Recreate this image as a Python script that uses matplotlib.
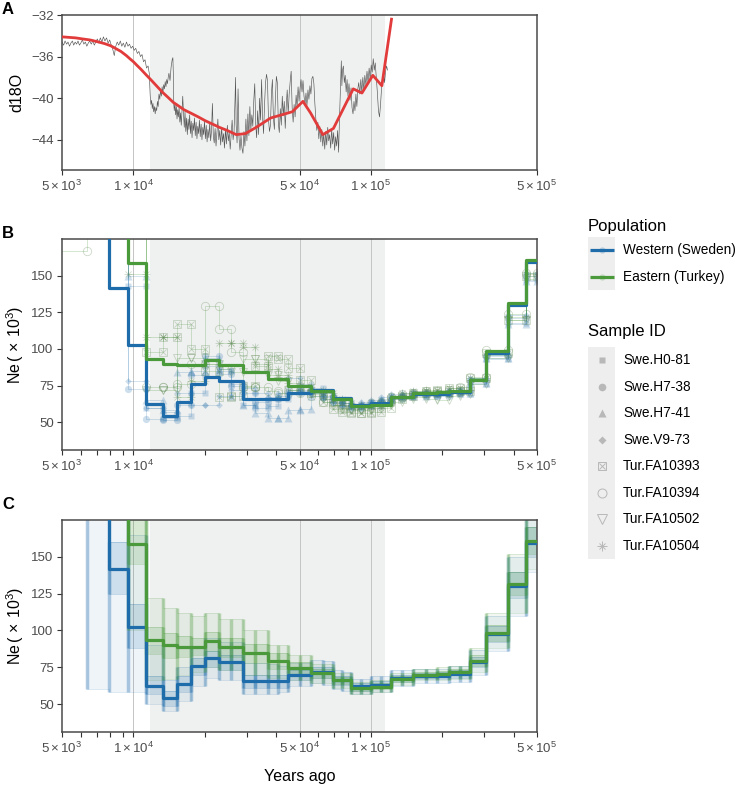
import numpy as np
import matplotlib
matplotlib.use("Agg")
import matplotlib.pyplot as plt
from matplotlib.patches import Rectangle
from matplotlib.ticker import FixedLocator, NullFormatter, FixedFormatter

plt.rcParams['font.family'] = ['Liberation Sans', 'DejaVu Sans']
plt.rcParams['mathtext.fontset'] = 'custom'
plt.rcParams['mathtext.rm'] = 'Liberation Sans'
plt.rcParams['mathtext.it'] = 'Liberation Sans:italic'
plt.rcParams['mathtext.bf'] = 'Liberation Sans:bold'

nan = float('nan')

# ---------------- data ----------------
# Panel A: ice-core d18O (years ago, d18O)
GRAY_D18O = [
 (5000,-34.6),(5080,-34.9),(5150,-34.5),(5230,-34.8),(5300,-34.6),(5380,-35.0),(5450,-34.7),(5530,-34.5),
 (5600,-34.9),(5680,-34.6),(5760,-34.8),(5840,-34.5),(5920,-34.9),(6000,-34.7),(6090,-34.4),(6180,-34.8),
 (6270,-34.6),(6360,-35.0),(6450,-34.7),(6540,-34.5),(6640,-34.8),(6740,-34.5),(6840,-34.9),(6940,-34.6),
 (7040,-34.3),(7140,-34.7),(7250,-34.2),(7360,-34.6),(7470,-34.1),(7580,-34.5),(7700,-34.2),(7820,-34.7),
 (7940,-34.4),(8060,-34.9),(8180,-35.3),(8300,-35.9),(8420,-35.0),(8540,-34.6),(8670,-34.9),(8800,-34.5),
 (8930,-35.0),(9060,-34.7),(9200,-35.1),(9340,-34.6),(9480,-35.0),(9620,-34.8),(9770,-35.2),(9920,-35.0),
 (10070,-35.4),(10220,-35.2),(10380,-35.7),(10540,-35.5),(10700,-36.0),(10860,-35.8),(11020,-36.5),
 (11180,-36.3),(11350,-37.1),(11520,-36.9),(11650,-37.6),
 (11760,-39.8),(11840,-40.6),(11920,-40.2),(12000,-41.0),(12080,-40.5),(12160,-41.3),(12250,-40.8),
 (12340,-41.5),(12430,-40.9),(12520,-41.2),(12610,-40.3),(12700,-40.8),(12800,-39.6),(12900,-40.1),
 (13000,-39.2),(13100,-39.8),(13200,-38.9),(13300,-39.5),(13400,-38.7),(13500,-39.1),(13600,-38.4),
 (13700,-38.9),(13800,-38.2),(13900,-38.6),(14000,-38.0),(14100,-37.6),(14250,-38.3),(14400,-37.0),
 (14550,-36.3),(14650,-36.1),(14720,-37.8),(14780,-40.6),(14850,-41.2),(14950,-40.5),(15050,-41.6),
 (15150,-40.8),(15250,-42.0),(15350,-41.1),(15450,-41.8),(15560,-40.9),(15670,-42.3),(15780,-41.4),
 (15890,-42.6),(16000,-41.2),(16120,-39.8),(16240,-41.5),(16360,-42.8),(16480,-41.3),(16600,-43.2),
 (16720,-41.9),(16850,-43.5),(16980,-42.0),(17110,-43.0),(17240,-41.6),(17370,-43.4),(17500,-42.2),
 (17640,-43.8),(17780,-42.4),(17920,-43.1),(18060,-41.9),(18200,-43.6),(18350,-42.3),(18500,-43.9),
 (18650,-42.7),(18800,-43.4),(18950,-42.1),(19100,-43.7),(19260,-42.5),(19420,-44.0),(19580,-42.8),
 (19740,-43.5),(19900,-42.2),(20070,-43.9),(20240,-42.6),(20410,-44.2),(20580,-43.0),(20760,-43.8),
 (20940,-42.4),(21120,-44.1),(21300,-43.2),(21490,-40.5),(21680,-43.6),(21870,-44.3),(22060,-42.9),
 (22260,-44.6),(22460,-43.3),(22660,-42.0),(22870,-44.0),(23080,-43.1),(23290,-44.5),(23500,-42.8),
 (23720,-44.2),(23940,-43.4),(24160,-44.8),(24380,-43.0),(24610,-44.4),(24840,-42.6),(25070,-44.1),
 (25300,-43.3),(25540,-44.9),(25780,-43.5),(26020,-42.1),(26260,-44.0),(26510,-43.2),(26760,-40.1),
 (26900,-38.0),(27050,-42.5),(27300,-44.3),(27560,-39.1),(27820,-43.8),(28080,-45.0),(28350,-43.6),
 (28620,-44.8),(28900,-45.3),(29180,-43.2),(29460,-44.6),(29740,-42.0),(30030,-44.1),(30320,-41.5),
 (30610,-43.6),(30900,-40.8),(31200,-43.0),(31500,-41.6),(31800,-42.7),(32100,-40.2),(32400,-38.6),
 (32700,-42.5),(33000,-43.8),(33320,-41.2),(33640,-43.5),(33960,-40.0),(34290,-42.1),(34620,-38.2),
 (34950,-41.8),(35290,-43.4),(35630,-40.6),(35970,-38.5),(36310,-37.7),(36660,-38.3),(37010,-42.0),
 (37370,-43.2),(37730,-42.6),(38090,-39.5),(38450,-38.2),(38820,-41.9),(39190,-43.0),(39570,-40.2),
 (39950,-37.9),(40330,-38.5),(40720,-42.4),(41110,-43.3),(41510,-41.0),(41910,-42.6),(42310,-39.8),
 (42720,-41.7),(43130,-40.3),(43540,-42.9),(43960,-40.8),(44380,-39.2),(44810,-41.5),(45240,-39.6),
 (45680,-38.4),(46120,-37.4),(46560,-40.9),(47010,-42.3),(47460,-40.6),(47920,-41.8),(48380,-39.7),
 (48840,-40.9),(49310,-38.9),(49790,-40.3),(50270,-39.0),(50750,-38.2),(51240,-39.4),(51730,-38.3),
 (52230,-39.8),(52730,-40.6),(53240,-39.5),(53750,-40.7),(54270,-39.2),(54790,-40.1),(55320,-38.8),
 (55850,-39.6),(56390,-38.1),(56930,-37.9),(57480,-38.6),(58030,-40.5),(58590,-42.0),(59160,-43.1),
 (59730,-42.3),(60300,-43.9),(60880,-42.7),(61470,-44.2),(62060,-43.0),(62660,-44.6),(63260,-43.4),
 (63870,-44.9),(64490,-43.2),(65110,-44.5),(65740,-42.8),(66370,-44.1),(67010,-43.5),(67660,-44.8),
 (68310,-43.0),(68970,-44.4),(69630,-43.3),(70300,-45.0),(70980,-43.7),(71670,-44.6),(72360,-43.1),
 (73060,-45.2),(73560,-42.5),(74070,-40.3),(74580,-38.0),(75000,-36.4),(75400,-38.8),(75900,-37.3),
 (76500,-36.9),(77200,-38.5),(77900,-37.8),(78600,-39.4),(79300,-38.2),(80000,-39.8),(80800,-38.6),
 (81600,-40.2),(82400,-39.0),(83200,-40.9),(84000,-41.5),(84800,-40.3),(85600,-41.2),(86400,-39.6),
 (87200,-40.8),(88000,-39.1),(88800,-38.5),(89700,-39.6),(90600,-38.2),(91500,-39.4),(92400,-38.0),
 (93300,-39.2),(94200,-37.8),(95200,-38.7),(96200,-37.4),(97200,-38.5),(98200,-37.1),(99200,-38.2),
 (100200,-36.8),(101200,-37.5),(102200,-36.2),(103200,-37.3),(104200,-36.6),(105300,-38.0),
 (106400,-39.5),(107500,-41.2),(108600,-41.8),(109700,-40.6),(110800,-39.0),(111900,-38.2),
 (113000,-37.6),(114100,-38.5),(115200,-37.4),(116300,-36.9),(117400,-37.3)]

# Panel A: smoothed curve
RED_YEARS = [5000, 5350, 5710, 6100, 6570, 7000, 7555, 8000, 8385, 8850, 9330, 9650, 10000, 10350,
             10730, 11300, 11920, 12550, 13210, 13950, 14710, 15500, 16300, 17500, 18750, 20000,
             21570, 23000, 24820, 27090, 29600, 32850, 37800, 43490, 46650, 51700, 55600,
             62700, 69500, 84200, 91600, 101800, 111100, 122000]
RED_VALS = [-34.1, -34.15, -34.2, -34.3, -34.4, -34.55, -34.75, -34.95, -35.2, -35.5, -35.9, -36.2,
            -36.5, -36.85, -37.2, -37.75, -38.3, -38.85, -39.4, -39.9, -40.4, -40.75, -41.1,
            -41.45, -41.8, -42.15, -42.5, -42.8, -43.1, -43.5, -43.4, -42.8, -41.9, -41.5, -41.3,
            -40.3, -41.4, -43.5, -42.9, -39.1, -39.5, -37.8, -38.8, -32.4]

# MSMC time-interval edges (years ago)
EDGES = [4500, 6400, 7915, 9500, 11300, 13250, 15200, 17500, 20000, 23000,
         25800, 28870, 32600, 36800, 40600, 44660, 50200, 55980, 62500, 69070,
         75700, 82570, 91000, 100000, 110000, 121000, 135000, 150000, 170000,
         190000, 214000, 237000, 260000, 305000, 377000, 449000, 500000]

# Ne (x1000) per interval; 300 = off the top of the chart
NE_WESTERN = [nan, 300, 141.5, 102.5, 62.5, 54, 63.5, 76, 81, 78.3, 78.3, 65.5, 65.5, 65.5, 65.5,
              69.6, 69.6, 71.9, 71.9, 66.2, 66.2, 62, 62, 63, 63, 67.5, 67.5, 69, 69, 69, 70.5,
              70.5, 78.5, 97.5, 130, 159.5]
NE_EASTERN = [nan, nan, 300, 158.5, 93.3, 89.8, 89, 89, 92.5, 88.8, 88.8, 84.5, 84.5, 79.5, 79.5,
              74.8, 74.8, 71, 71, 66, 66, 61, 61, 61.5, 61.5, 67, 67, 70, 70, 70.5, 71.5, 71.5,
              79, 98.5, 131.5, 160.5]

SAMPLE_IDS = ["Swe.H0-81", "Swe.H7-38", "Swe.H7-41", "Swe.V9-73",
              "Tur.FA10393", "Tur.FA10394", "Tur.FA10502", "Tur.FA10504"]
NE_SWE_H0_81 = [nan, 300, 300, 143, 60, 53, 54, 70, 88, 85, 76, 62, 60, 61, 66, 72, 71, 73, 68, 65,
                63, 61, 62, 64, 65, 68, 67, 70, 68, 69, 71, 69, 76, 93, 118, 147]
NE_SWE_H7_38 = [nan, 300, 300, 72.5, 52, 51.5, 62, 82, 95, 83, 75, 70, 64, 66, 68, 70, 72, 70, 67,
                64, 62, 60, 61, 63, 64, 66, 68, 69, 70, 68, 70, 72, 79, 95, 121, 150]
NE_SWE_H7_41 = [nan, 300, 300, 150, 65, 58, 84, 85, 94, 86, 68, 62, 56, 53, 52.5, 58, 59, 68, 70,
                66, 63, 61, 63, 62, 66, 67, 70, 68, 69, 70, 71, 70, 77, 94, 117, 146]
NE_SWE_V9_73 = [nan, 300, 300, 78, 60, 57, 70, 62, 62, 68, 72, 73, 70, 67, 70, 80, 76, 70, 66, 63,
                61, 62, 64, 65, 67, 69, 68, 71, 70, 69, 72, 71, 80, 96, 123, 152]
NE_TUR_FA10393 = [nan, nan, 300, 300, 98, 108, 117, 100, 85, 67, 68, 75, 88, 95, 93, 86.7, 79, 70,
                  64, 59, 57, 56, 56, 57, 60, 66, 68, 70, 71, 72, 73, 71, 80, 97, 120, 150]
NE_TUR_FA10394 = [167, 300, 300, 300, 74, 74, 76, 90, 129, 113.5, 98, 74, 74, 71, 70, 72, 70, 68,
                  64, 62, 60, 59, 60, 63, 64, 67, 69, 70, 71, 70, 72, 74, 81, 99, 124, 152]
NE_TUR_FA10502 = [nan, nan, 300, 300, 72, 72, 94, 94, 90, 86, 84, 93, 93, 82, 78, 72, 70, 69, 66,
                  62, 59, 58, 58, 60, 62, 64, 66, 67, 66, 65, 68, 69, 76, 94, 120, 148]
NE_TUR_FA10504 = [nan, nan, 300, 151, 108, 108, 67, 78, 90, 104, 104, 101, 90, 86, 82, 77, 74, 72,
                  70, 66, 63, 62, 61, 62, 63, 68, 70, 71, 72, 70, 73, 72, 80, 96, 122, 151]

# Bootstrap spread (panel C): outer and inner ranges per interval
WEST_LO_OUT = [nan, 60, 58, 58, 50, 45, 52, 62, 68, 66, 66, 57, 57, 57, 58, 62, 62, 64, 63, 60, 59,
               57, 57, 58, 58, 62, 62, 64, 64, 64, 65, 65, 70, 86, 110, 140]
WEST_HI_OUT = [nan, 300, 300, 165, 90, 66, 75, 88, 95, 92, 92, 78, 78, 77, 76, 78, 78, 80, 79, 73,
               72, 67, 67, 69, 69, 73, 73, 74, 74, 74, 76, 76, 87, 110, 150, 180]
WEST_LO_IN = [nan, nan, 125, 88, 57, 49, 58, 70, 75, 73, 73, 61, 61, 61, 61, 66, 66, 68, 68, 63, 63,
              59, 59, 61, 61, 65, 65, 67, 67, 67, 68, 68, 75, 92, 122, 150]
WEST_HI_IN = [nan, nan, 160, 118, 69, 59, 69, 81, 86, 83, 83, 70, 70, 70, 70, 73, 73, 75, 75, 69,
              69, 64.5, 64.5, 65.5, 65.5, 70, 70, 71, 71, 71.5, 73, 73, 82, 103, 140, 170]
EAST_LO_OUT = [nan, nan, nan, 100, 66, 67, 70, 72, 75, 73, 73, 70, 70, 68, 68, 66, 66, 64, 64, 61,
               61, 57, 57, 58, 58, 63, 63, 66, 66, 66, 67, 67, 72, 88, 112, 142]
EAST_HI_OUT = [nan, nan, nan, 300, 122, 115, 112, 110, 112, 108, 108, 100, 100, 90, 90, 83, 83, 77,
               77, 71, 71, 65, 65, 66, 66, 71, 71, 74, 74, 75, 76, 76, 88, 112, 152, 180]
EAST_LO_IN = [nan, nan, nan, 145, 84, 81, 82, 83, 86, 82, 82, 78, 78, 74, 74, 71, 71, 68, 68, 63.5,
              63.5, 59, 59, 60, 60, 65, 65, 68, 68, 68.5, 69.5, 69.5, 76, 93, 124, 152]
EAST_HI_IN = [nan, nan, nan, 175, 102, 98, 96, 95, 99, 95, 95, 91, 91, 85, 85, 78.5, 78.5, 74, 74,
              68.5, 68.5, 63, 63, 64, 64, 69, 69, 72, 72, 72.5, 74, 74, 83, 104, 140, 170]

SHADE = (11700, 115000)
GRID_X = [1e4, 5e4, 1e5]
MAJOR_X = [5e3, 1e4, 5e4, 1e5, 5e5]
MAJOR_LABELS = [r"$5\times10^{3}$", r"$1\times10^{4}$", r"$5\times10^{4}$",
                r"$1\times10^{5}$", r"$5\times10^{5}$"]
MINOR_X = [6e3, 7e3, 8e3, 9e3, 2e4, 3e4, 4e4, 6e4, 7e4, 8e4, 9e4, 2e5, 3e5, 4e5]

# ---------------- style ----------------
BLUE = "#1f6cab"
GREEN = "#4a9a3c"
TURM = "#5f8a55"
RED = "#e23b3b"
SHADE_C = "#eff1f0"
TICK_C = "#4d4d4d"

W, H = 746, 788
fig = plt.figure(figsize=(W / 100, H / 100), dpi=100)


def add_ax(left, top, right, bottom):
    return fig.add_axes([left / W, 1 - bottom / H, (right - left) / W, (bottom - top) / H])


def style(ax, minor=True):
    ax.set_xscale('log')
    ax.set_xlim(5e3, 5e5)
    ax.axvspan(SHADE[0], SHADE[1], color=SHADE_C, lw=0, zorder=0)
    for g in GRID_X:
        ax.axvline(g, color="#c4c4c4", lw=0.7, zorder=0.5)
    ax.xaxis.set_major_locator(FixedLocator(MAJOR_X))
    ax.xaxis.set_major_formatter(FixedFormatter(MAJOR_LABELS))
    if minor:
        ax.xaxis.set_minor_locator(FixedLocator(MINOR_X))
    else:
        ax.xaxis.set_minor_locator(FixedLocator([]))
    ax.xaxis.set_minor_formatter(NullFormatter())
    for s in ax.spines.values():
        s.set_color("#4a4a4a")
        s.set_linewidth(1.1)
    ax.tick_params(which='both', direction='out', length=3.5, width=0.8, color="#333333",
                   labelcolor=TICK_C, labelsize=9.5, pad=2.5)


def steps(vals):
    return list(vals) + [vals[-1]]


axA = add_ax(62, 15, 537, 170)
axB = add_ax(62, 239, 537, 450)
axC = add_ax(62, 520, 537, 732)

# ---- Panel A ----
style(axA, minor=False)
gx = [p[0] for p in GRAY_D18O]
gy = [p[1] for p in GRAY_D18O]
axA.plot(gx, gy, color="#555555", lw=0.45, zorder=2)
axA.plot(RED_YEARS, RED_VALS, color=RED, lw=2.0, zorder=3)
axA.set_ylim(-46.9, -32)
axA.set_yticks([-44, -40, -36, -32])

# ---- Panel B ----
style(axB)
sample_vals = [NE_SWE_H0_81, NE_SWE_H7_38, NE_SWE_H7_41, NE_SWE_V9_73,
               NE_TUR_FA10393, NE_TUR_FA10394, NE_TUR_FA10502, NE_TUR_FA10504]
marker_specs = [
    [dict(marker='s', ms=4.8, mfc=BLUE, mec='none')],
    [dict(marker='o', ms=5.2, mfc=BLUE, mec='none')],
    [dict(marker='^', ms=5.6, mfc=BLUE, mec='none')],
    [dict(marker='D', ms=3.4, mfc=BLUE, mec='none')],
    [dict(marker='s', ms=5.6, mfc='none', mec=TURM, mew=0.6), dict(marker='x', ms=4.6, mfc='none', mec=TURM, mew=0.6)],
    [dict(marker='o', ms=6.0, mfc='none', mec=TURM, mew=0.6)],
    [dict(marker='v', ms=6.0, mfc='none', mec=TURM, mew=0.6)],
    [dict(marker='+', ms=6.0, mfc='none', mec=TURM, mew=0.6), dict(marker='x', ms=4.6, mfc='none', mec=TURM, mew=0.6)],
]
for k, vals in enumerate(sample_vals):
    col = BLUE if k < 4 else GREEN
    a_line = 0.22 if k < 4 else 0.28
    a_mark = 0.22 if k < 4 else 0.32
    axB.plot(EDGES, steps(vals), drawstyle='steps-post', color=col, lw=0.6, alpha=a_line, zorder=2)
    mx, my = [], []
    for i, v in enumerate(vals):
        if np.isfinite(v) and v < 176:
            mx += [EDGES[i], EDGES[i + 1]]
            my += [v, v]
    for spec in marker_specs[k]:
        axB.plot(mx, my, ls='none', alpha=a_mark, zorder=2.5, **spec)
axB.plot(EDGES, steps(NE_WESTERN), drawstyle='steps-post', color=BLUE, lw=2.3, zorder=4)
axB.plot(EDGES, steps(NE_EASTERN), drawstyle='steps-post', color=GREEN, lw=2.3, zorder=5)

# ---- Panel C ----
style(axC)


def band(ax, lo_o, hi_o, lo_i, hi_i, col, z):
    e = np.array(EDGES, float)
    lo_o = np.array(steps(lo_o), float); hi_o = np.array(steps(hi_o), float)
    lo_i = np.array(steps(lo_i), float); hi_i = np.array(steps(hi_i), float)
    ax.fill_between(e, lo_o, hi_o, step='post', color=col, alpha=0.07, lw=0, zorder=z)
    ax.fill_between(e, lo_i, hi_i, step='post', color=col, alpha=0.16, lw=0, zorder=z)
    for arr, a in ((lo_o, 0.22), (hi_o, 0.22), (lo_i, 0.3), (hi_i, 0.3)):
        ax.plot(e, arr, drawstyle='steps-post', color=col, lw=0.5, alpha=a, zorder=z)
    n = len(EDGES) - 1
    for i in range(1, n):
        a = [v for v in (lo_o[i - 1], lo_o[i]) if np.isfinite(v)]
        b = [v for v in (hi_o[i - 1], hi_o[i]) if np.isfinite(v)]
        if a and b:
            ax.vlines(EDGES[i], min(a), max(b), color=col, lw=2.5, alpha=0.35, zorder=z)
        a = [v for v in (lo_i[i - 1], lo_i[i]) if np.isfinite(v)]
        b = [v for v in (hi_i[i - 1], hi_i[i]) if np.isfinite(v)]
        if a and b:
            ax.vlines(EDGES[i], min(a), max(b), color=col, lw=2.5, alpha=0.3, zorder=z)


band(axC, WEST_LO_OUT, WEST_HI_OUT, WEST_LO_IN, WEST_HI_IN, BLUE, 2)
band(axC, EAST_LO_OUT, EAST_HI_OUT, EAST_LO_IN, EAST_HI_IN, GREEN, 2.5)
axC.plot(EDGES, steps(NE_WESTERN), drawstyle='steps-post', color=BLUE, lw=2.3, zorder=4)
axC.plot(EDGES, steps(NE_EASTERN), drawstyle='steps-post', color=GREEN, lw=2.3, zorder=5)

for ax in (axB, axC):
    ax.set_ylim(31, 175)
    ax.set_yticks([50, 75, 100, 125, 150])

# ---- labels ----
fig.text(17 / W, 1 - 92.5 / H, "d18O", rotation=90, ha='center', va='center', fontsize=11.5)
fig.text(15 / W, 1 - 344.5 / H, r"Ne$\,(\,\times\,10^{3})$", rotation=90, ha='center', va='center', fontsize=11.5)
fig.text(15 / W, 1 - 626 / H, r"Ne$\,(\,\times\,10^{3})$", rotation=90, ha='center', va='center', fontsize=11.5)
fig.text(299.5 / W, 1 - 777 / H, "Years ago", ha='center', va='center', fontsize=11.5)
for lab, y in (("A", 10), ("B", 233), ("C", 505)):
    fig.text(2 / W, 1 - y / H, lab, ha='left', va='center', fontsize=12, fontweight='bold')

# ---- legend (drawn in pixel space) ----
lg = fig.add_axes([0, 0, 1, 1], zorder=10)
lg.set_xlim(0, W)
lg.set_ylim(H, 0)
lg.axis('off')
KEY_BG = "#eeeeee"
lg.text(588, 226, "Population", ha='left', va='center', fontsize=12)
pop_names = ["Western (Sweden)", "Eastern (Turkey)"]
pop_cols = [BLUE, GREEN]
for j, (nm, col) in enumerate(zip(pop_names, pop_cols)):
    yc = 250 + j * 26.5
    lg.add_patch(Rectangle((588, yc - 13.25), 27, 26.5, color=KEY_BG, lw=0))
    lg.plot([589.5, 613.5], [yc, yc], color=col, lw=2.3, solid_capstyle='butt')
    lg.plot([601.5], [yc], marker='o', ms=4.5, color=col, alpha=0.25, mec='none')
    lg.text(623, yc, nm, ha='left', va='center', fontsize=9.8)

lg.text(588, 331.5, "Sample ID", ha='left', va='center', fontsize=12)
GRAYM = "#b8b8b8"
leg_specs = [
    [dict(marker='s', ms=5.0, mfc=GRAYM, mec='none')],
    [dict(marker='o', ms=5.5, mfc=GRAYM, mec='none')],
    [dict(marker='^', ms=6.0, mfc=GRAYM, mec='none')],
    [dict(marker='D', ms=3.6, mfc=GRAYM, mec='none')],
    [dict(marker='s', ms=6.0, mfc='none', mec=GRAYM, mew=0.7), dict(marker='x', ms=5.0, mfc='none', mec=GRAYM, mew=0.7)],
    [dict(marker='o', ms=6.5, mfc='none', mec=GRAYM, mew=0.7)],
    [dict(marker='v', ms=6.5, mfc='none', mec=GRAYM, mew=0.7)],
    [dict(marker='+', ms=6.5, mfc='none', mec=GRAYM, mew=0.7), dict(marker='x', ms=5.0, mfc='none', mec=GRAYM, mew=0.7)],
]
for j, nm in enumerate(SAMPLE_IDS):
    yc = 360 + j * 26.5
    lg.add_patch(Rectangle((588, yc - 13.25), 27, 26.5, color=KEY_BG, lw=0))
    for spec in leg_specs[j]:
        lg.plot([601.5], [yc], ls='none', **spec)
    lg.text(623, yc, nm, ha='left', va='center', fontsize=9.8)

fig.savefig("out.png", dpi=100)
